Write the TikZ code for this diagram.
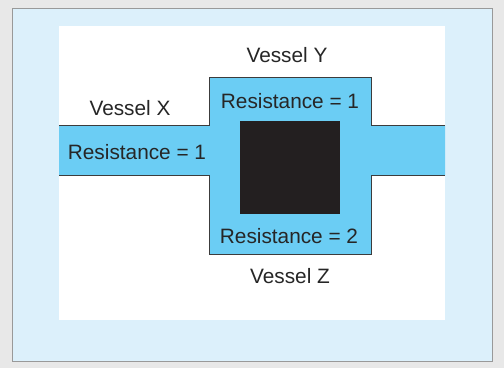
\documentclass[tikz,border=0pt]{standalone}
\usepackage{fontspec}
\setmainfont{Liberation Sans}
\usepackage{xcolor}
\usetikzlibrary{positioning}
\definecolor{pagegrey}{HTML}{E8E8E8}
\definecolor{panelblue}{HTML}{DCF0FB}
\definecolor{vesselcyan}{HTML}{6BCDF4}
\definecolor{clotblack}{HTML}{231F20}
\definecolor{edgegrey}{HTML}{3C3C3C}
\tikzset{
    vesseldiagram/.style={x=1pt, y=-1pt, font=\fontsize{20.8}{24}\selectfont},
    panel/.style={fill=panelblue, draw=gray!80, line width=1pt},
    vessel/.style={fill=vesselcyan},
    vesseledge/.style={draw=edgegrey, line width=1pt},
    clot/.style={fill=clotblack},
    label/.style={text=black!85, inner sep=0pt, anchor=base},
}
\begin{document}
\begin{tikzpicture}[vesseldiagram]
        \fill[pagegrey] (0,0) rectangle (504,368);
        \useasboundingbox (0,0) rectangle (504,368);
        \path[panel] (12,8) rectangle (492.5,361);
        \fill[white] (59,26) rectangle (445,320);

        % vessels X, Y and Z as one cyan shape
        \fill[vessel] (59,125.5) -- (209,125.5) -- (209,77) -- (371,77) -- (371,125.5)
            -- (445,125.5) -- (445,175) -- (371,175) -- (371,254) -- (209,254)
            -- (209,175) -- (59,175) -- cycle;
        \draw[vesseledge] (59,125.5) -- (209,125.5) -- (209,77) -- (371,77) -- (371,125.5) -- (445,125.5);
        \draw[vesseledge] (59,175) -- (209,175) -- (209,254) -- (371,254) -- (371,175) -- (445,175);
        \fill[clot] (240,121) rectangle (339.5,214);

        \node[label] (vy)  at (287,62)  {Vessel Y};
        \node[label] (vx)  at (130,115) {Vessel X};
        \node[label] (ry)  at (290,108) {Resistance = 1};
        \node[label] (rx)  at (137,159) {Resistance = 1};
        \node[label] (rz)  at (289,243) {Resistance = 2};
        \node[label] (vz)  at (290,283) {Vessel Z};
    \end{tikzpicture}
\end{document}
